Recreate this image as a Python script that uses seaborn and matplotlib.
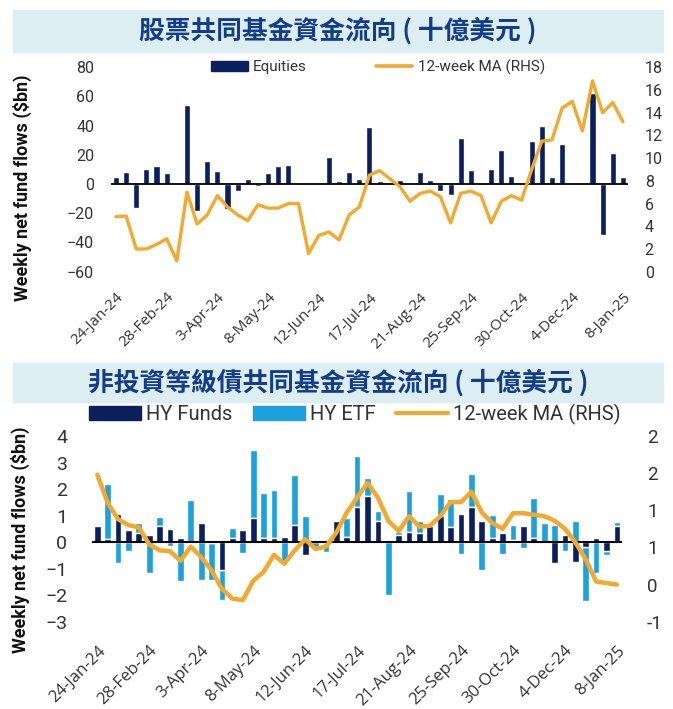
import numpy as np
import pandas as pd
import matplotlib
matplotlib.use("Agg")
import matplotlib.pyplot as plt
import seaborn as sns
from matplotlib.patches import Rectangle, Patch
from matplotlib.lines import Line2D

# ---------------- data ----------------
weeks = pd.date_range("2024-01-24", periods=51, freq="7D").strftime("%d-%b-%y").tolist()
tick_labels = ["24-Jan-24", "28-Feb-24", "3-Apr-24", "8-May-24", "12-Jun-24", "17-Jul-24",
               "21-Aug-24", "25-Sep-24", "30-Oct-24", "4-Dec-24", "8-Jan-25"]

equities = [5.2, 8.6, -16.4, 10.5, 12.7, 7.5, 0.5, 54.2, -18.7, 15.5,
            9.1, -17.1, -4.5, 3.4, -1.0, 7.5, 12.5, 13.2, 0.8, 1.0,
            0.0, 18.9, 1.8, 8.1, 3.4, 39.0, 2.3, 0.0, 3.0, 0.0,
            8.6, 2.6, -4.4, -7.8, 31.4, 9.8, -0.8, 10.5, 23.5, 5.7,
            0.5, 29.2, 39.9, 4.8, 27.3, 0.0, 0.5, 62.2, -34.6, 21.6, 4.6]
equities_ma = [4.85, 4.9, 2.0, 2.0, 2.4, 2.9, 0.95, 7.0, 4.2, 5.0,
               6.7, 5.7, 5.0, 4.5, 5.9, 5.6, 5.6, 6.0, 6.0, 1.6,
               3.2, 3.5, 2.8, 5.0, 5.7, 8.5, 8.9, 8.2, 7.5, 6.2,
               6.9, 7.1, 6.6, 4.3, 6.9, 7.1, 6.7, 4.3, 6.2, 6.7,
               6.3, 9.0, 11.5, 11.6, 14.4, 15.0, 12.4, 16.8, 14.0, 14.9, 13.2]

hy_funds = [0.62, 0.1, 1.05, 0.46, 0.35, 0.25, 0.59, 0.48, 0.15, -0.05,
            0.72, -0.02, -1.04, 0.15, 0.44, 0.9, 0.15, 0.16, 0.19, 0.65,
            -0.47, 0.05, -0.02, 0.78, 0.21, 1.31, 1.75, 0.78, 0.0, 0.25,
            0.37, 0.34, 0.62, 1.0, 0.56, 1.06, 1.34, 0.81, 0.16, 0.34,
            0.09, 0.6, 0.16, 0.02, -0.79, 0.28, -0.75, -0.19, 0.16, -0.35, 0.62]
hy_etf = [0.0, 2.1, -0.8, -0.34, 0.37, -1.15, 0.36, -0.15, -1.46, 1.6,
          -1.42, -1.42, -1.15, 0.38, -0.41, 2.56, 1.7, 1.8, -0.7, 1.89,
          0.98, -0.2, -0.35, 0.0, 0.71, 1.92, 0.65, 0.41, -2.0, 0.12,
          1.56, 0.47, 0.0, 0.81, 1.06, -0.44, 1.22, -1.06, 0.86, -0.44,
          0.54, -0.22, 1.49, 0.69, 0.65, -0.35, 0.81, -2.04, -1.15, -0.12, 0.15]
hy_ma = [1.48, 1.10, 0.88, 0.80, 0.77, 0.54, 0.46, 0.45, 0.32, 0.51,
         0.37, 0.19, -0.06, -0.19, -0.21, 0.05, 0.17, 0.40, 0.28, 0.46,
         0.61, 0.48, 0.51, 0.70, 0.97, 1.17, 1.37, 1.17, 0.86, 0.72,
         0.92, 0.78, 0.79, 0.92, 1.11, 1.11, 1.25, 0.97, 0.83, 0.75,
         0.96, 0.96, 0.94, 0.92, 0.86, 0.75, 0.57, 0.34, 0.04, 0.02, 0.0]
hy_right_ticks = [2.0, 1.5, 1.0, 0.5, 0.0, -0.5]
hy_right_labels = ["2", "2", "1", "1", "0", "-1"]

# ---------------- style ----------------
NAVY = "#0B1F5F"
LIGHT = "#1BA1DC"
ORANGE = "#F3A82E"
BAND = "#DDEEF3"
TITLE_C = "#143C8C"
TXT = "#333333"

sns.set_style("white")
plt.rcParams["font.family"] = ["Roboto", "Noto Sans CJK TC", "DejaVu Sans"]

fig = plt.figure(figsize=(6.73, 7.09), dpi=100)
W, H = 673, 709

def fx(px):
    return px / W

def fy(py):
    return 1 - py / H

# title bands
for (top, bot, title) in [(10, 52, "股票共同基金資金流向 ( 十億美元 )"),
                          (363, 402, "非投資等級債共同基金資金流向 ( 十億美元 )")]:
    fig.patches.append(Rectangle((fx(13), fy(bot)), fx(663) - fx(13), fy(top) - fy(bot),
                                 transform=fig.transFigure, color=BAND, zorder=0))
    fig.text(0.502, (fy(top) + fy(bot)) / 2, title, ha="center", va="center",
             fontsize=18.5, color=TITLE_C, fontweight="bold",
             family=["Noto Sans CJK TC", "DejaVu Sans"])

idx = np.arange(len(weeks))

# ---------------- top chart ----------------
ax1 = fig.add_axes([fx(110.9), fy(271.7), fx(628) - fx(110.9), fy(67.3) - fy(271.7)])
df_eq = pd.DataFrame({"week": weeks, "flow": equities})
sns.barplot(data=df_eq, x="week", y="flow", color=NAVY, saturation=1, width=0.6,
            errorbar=None, ax=ax1, zorder=2)
ax1.axhline(0, color="black", lw=1.3, zorder=3)
ax1.set_ylim(-60, 80)
ax1.set_yticks(range(-60, 81, 20))
ax1.set_xlim(-0.5, len(weeks) - 0.5)
ax1.set_xlabel("")
ax1.set_ylabel("")
ax1r = ax1.twinx()
sns.lineplot(x=idx, y=equities_ma, color=ORANGE, lw=2.4, ax=ax1r, zorder=4)
ax1r.set_ylim(0, 18)
ax1r.set_yticks(range(0, 19, 2))
ax1r.set_xlim(-0.5, len(weeks) - 0.5)

ax1.set_xticks(range(0, 51, 5))
ax1.set_xticklabels(tick_labels, rotation=45, ha="right", rotation_mode="anchor",
                    fontsize=11, color=TXT, family=["Open Sans", "DejaVu Sans"])
ax1.tick_params(axis="x", length=0, pad=13)
ax1.tick_params(axis="y", length=0, pad=12, labelsize=11.5, labelcolor=TXT)
ax1r.tick_params(axis="y", length=0, pad=12, labelsize=11.5, labelcolor=TXT)
for a in (ax1, ax1r):
    for s in a.spines.values():
        s.set_visible(False)

fig.legend(handles=[Patch(color=NAVY, label="Equities"),
                    Line2D([], [], color=ORANGE, lw=2.6, label="12-week MA (RHS)")],
           loc="center", bbox_to_anchor=(fx(378), fy(67)), ncol=2, frameon=False,
           fontsize=11, handlelength=2.4, handletextpad=0.35, columnspacing=4.5,
           labelcolor=TXT)

fig.text(fx(22), fy(188), "Weekly net fund flows ($bn)", rotation=90, ha="center",
         va="center", fontsize=13, fontweight="bold", color="#111111")

# ---------------- bottom chart ----------------
ax2 = fig.add_axes([fx(92.1), fy(621.7), fx(622.1) - fx(92.1), fy(436) - fy(621.7)])
funds_arr = np.array(hy_funds)
etf_arr = np.array(hy_etf)
etf_bottom = np.where(np.sign(etf_arr) == np.sign(funds_arr), funds_arr, 0.0)
df_hy = pd.DataFrame({"week": weeks, "funds": hy_funds, "etf": hy_etf})
sns.barplot(data=df_hy, x="week", y="funds", color=NAVY, saturation=1, width=0.65,
            errorbar=None, ax=ax2, zorder=3)
sns.barplot(data=df_hy, x="week", y="etf", color=LIGHT, saturation=1, width=0.65,
            errorbar=None, ax=ax2, bottom=etf_bottom, zorder=2)
ax2.axhline(0, color="black", lw=1.5, zorder=4)
ax2.set_ylim(-3, 4)
ax2.set_yticks(range(-3, 5))
ax2.set_xlim(-0.5, len(weeks) - 0.5)
ax2.set_xlabel("")
ax2.set_ylabel("")
ax2r = ax2.twinx()
sns.lineplot(x=idx, y=hy_ma, color=ORANGE, lw=3.2, ax=ax2r, zorder=5)
ax2r.set_ylim(-0.5, 2.0)
ax2r.set_yticks(hy_right_ticks)
ax2r.set_yticklabels(hy_right_labels)
ax2r.set_xlim(-0.5, len(weeks) - 0.5)

ax2.set_xticks(range(0, 51, 5))
ax2.set_xticklabels(tick_labels, rotation=45, ha="right", rotation_mode="anchor",
                    fontsize=12, color=TXT, family=["Open Sans", "DejaVu Sans"])
ax2.tick_params(axis="x", length=0, pad=15)
ax2.tick_params(axis="y", length=0, pad=18, labelsize=14, labelcolor=TXT)
ax2r.tick_params(axis="y", length=0, pad=18, labelsize=13.5, labelcolor=TXT)
for a in (ax2, ax2r):
    for s in a.spines.values():
        s.set_visible(False)

fig.legend(handles=[Patch(color=NAVY, label="HY Funds"),
                    Patch(color=LIGHT, label="HY ETF"),
                    Line2D([], [], color=ORANGE, lw=3, label="12-week MA (RHS)")],
           loc="center", bbox_to_anchor=(fx(355), fy(414)), ncol=3, frameon=False,
           fontsize=14.5, handlelength=2.6, handletextpad=0.25, columnspacing=1.0,
           labelcolor=TXT)

fig.text(fx(20), fy(540), "Weekly net fund flows ($bn)", rotation=90, ha="center",
         va="center", fontsize=13, fontweight="bold", color="#111111")

fig.savefig("out.png", dpi=100)
